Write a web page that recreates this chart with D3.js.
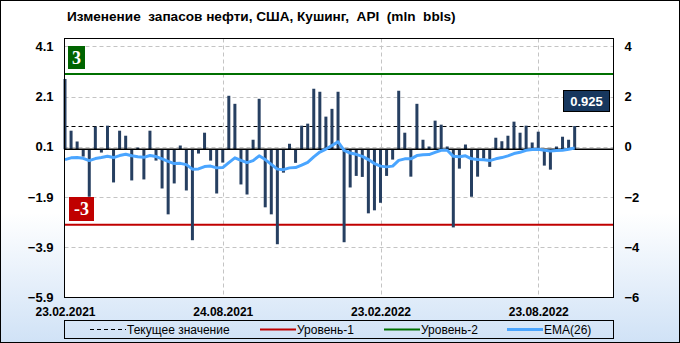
<!DOCTYPE html>
<html>
<head>
<meta charset="utf-8">
<script src="https://cdn.jsdelivr.net/npm/d3@7"></script>
<style>
  body { margin: 0; padding: 0; }
  svg { display: block; }
</style>
</head>
<body>
<script>
// data
const tickLabels = ["23.02.2021", "24.08.2021", "23.02.2022", "23.08.2022"];
const tickIndex = [0, 26, 52, 78];

const changes = [
  2.80, 0.74, 0.31, -0.29, -1.89, 0.90, -0.13, 0.94, -1.32, 0.74,
  0.54, -1.24, 0.07, -1.20, 0.74, -0.45, -1.56, -2.59, -1.36, 0.15,
  -1.64, -3.62, -0.17, 0.66, -0.45, -1.76, -0.53, 2.13, 1.81, -1.40,
  -1.80, 0.38, 2.01, -2.31, -2.59, -3.78, -0.93, 0.22, -0.54, 0.94,
  1.02, 2.41, 2.29, 1.30, 1.61, 2.29, -3.70, -1.52, -1.06, -1.10,
  -2.55, -2.43, -2.13, -1.06, -0.41, 2.33, 0.66, -1.09, 1.81, 0.38,
  0.11, 1.14, 0.98, 0.11, -3.11, -0.77, 0.19, -1.89, -1.09, -0.37,
  -0.70, 0.46, 0.32, 0.54, 1.10, 0.66, 0.94, 0.27, 0.70, -0.65,
  -0.81, 0.11, 0.50, 0.38, 0.925
];

const ema26 = [
  -0.41, -0.34, -0.33, -0.36, -0.45, -0.37, -0.33, -0.28, -0.33, -0.25,
  -0.20, -0.26, -0.30, -0.32, -0.25, -0.29, -0.38, -0.48, -0.57, -0.56,
  -0.61, -0.79, -0.78, -0.69, -0.67, -0.74, -0.73, -0.53, -0.34, -0.44,
  -0.53, -0.45, -0.26, -0.41, -0.60, -0.79, -0.81, -0.74, -0.73, -0.63,
  -0.52, -0.30, -0.11, 0.01, 0.15, 0.30, -0.04, -0.15, -0.20, -0.28,
  -0.41, -0.57, -0.67, -0.70, -0.67, -0.44, -0.38, -0.38, -0.25, -0.22,
  -0.21, -0.12, -0.04, -0.04, -0.28, -0.30, -0.26, -0.38, -0.41, -0.42,
  -0.45, -0.38, -0.33, -0.26, -0.17, -0.12, -0.04, -0.01, 0.00, -0.04,
  -0.07, -0.05, -0.04, 0.00, 0.05
];

const leftTicks = [4.1, 2.1, 0.1, -1.9, -3.9, -5.9];
const rightTicks = [4, 2, 0, -2, -4, -6];
const level1 = -3, level2 = 3;
const current = 0.925;

const W = 680, H = 343;
const plot = {left: 64.5, right: 613.5, top: 38.5, bottom: 297.5};
const boldFont = "'Liberation Sans', Arial, sans-serif";

const svg = d3.select("body").append("svg")
  .attr("width", W)
  .attr("height", H);

const defs = svg.append("defs");
const grad = defs.append("linearGradient")
  .attr("id", "bg")
  .attr("x1", 0).attr("y1", 0).attr("x2", 0).attr("y2", 1);
grad.append("stop").attr("offset", "0%").attr("stop-color", "#ffffff");
grad.append("stop").attr("offset", "62%").attr("stop-color", "#ffffff");
grad.append("stop").attr("offset", "100%").attr("stop-color", "#d0e2f6");

svg.append("rect")
  .attr("x", 0.5).attr("y", 0.5)
  .attr("width", W - 1).attr("height", H - 1)
  .attr("fill", "url(#bg)")
  .attr("stroke", "#000");

svg.append("rect")
  .attr("x", plot.left).attr("y", plot.top)
  .attr("width", plot.right - plot.left).attr("height", plot.bottom - plot.top)
  .attr("fill", "#fff");

// title
svg.append("text")
  .attr("x", 67)
  .attr("y", 21)
  .attr("font-family", boldFont)
  .attr("font-weight", "bold")
  .attr("font-size", 13.6)
  .style("white-space", "pre")
  .text("Изменение  запасов нефти, США, Кушинг,  API  (mln  bbls)");

// scales
const x = d3.scaleLinear()
  .domain([0, 90.4])
  .range([65, plot.right]);

const y = d3.scaleLinear()
  .domain([-5.9, 4.41])
  .range([plot.bottom, plot.top]);

const yR = d3.scaleLinear()
  .domain([-6, 4.31])
  .range([plot.bottom, plot.top]);

// gridlines
svg.append("g")
  .selectAll("line")
  .data(leftTicks.slice(0, 5))
  .join("line")
  .attr("x1", plot.left).attr("x2", plot.right)
  .attr("y1", d => Math.round(y(d)) + 0.5)
  .attr("y2", d => Math.round(y(d)) + 0.5)
  .attr("stroke", "#c4c4c4")
  .attr("stroke-dasharray", "4,3");

svg.append("g")
  .selectAll("line")
  .data(tickIndex.slice(1))
  .join("line")
  .attr("x1", d => Math.round(x(d)) + 0.5)
  .attr("x2", d => Math.round(x(d)) + 0.5)
  .attr("y1", plot.top).attr("y2", plot.bottom)
  .attr("stroke", "#c4c4c4")
  .attr("stroke-dasharray", "4,3");

// level lines
svg.append("line")
  .attr("x1", plot.left).attr("x2", plot.right)
  .attr("y1", y(level2)).attr("y2", y(level2))
  .attr("stroke", "#007000")
  .attr("stroke-width", 2);

svg.append("line")
  .attr("x1", plot.left).attr("x2", plot.right)
  .attr("y1", y(level1)).attr("y2", y(level1))
  .attr("stroke", "#c00000")
  .attr("stroke-width", 2);

// current value line
svg.append("line")
  .attr("x1", plot.left).attr("x2", plot.right)
  .attr("y1", Math.round(y(current)) + 0.5).attr("y2", Math.round(y(current)) + 0.5)
  .attr("stroke", "#000")
  .attr("stroke-dasharray", "4,3");

// bars
svg.append("g")
  .selectAll("line")
  .data(changes)
  .join("line")
  .attr("x1", (d, i) => x(i))
  .attr("x2", (d, i) => x(i))
  .attr("y1", y(0))
  .attr("y2", d => y(d))
  .attr("stroke", "#263f61")
  .attr("stroke-width", 3);

// zero line
svg.append("line")
  .attr("x1", plot.left).attr("x2", plot.right)
  .attr("y1", y(0)).attr("y2", y(0))
  .attr("stroke", "#000")
  .attr("stroke-width", 1.5);

// EMA
const line = d3.line()
  .x((d, i) => x(i))
  .y(d => y(d));

svg.append("path")
  .datum(ema26)
  .attr("fill", "none")
  .attr("stroke", "#4aa5ff")
  .attr("stroke-width", 3)
  .attr("stroke-linejoin", "round")
  .attr("d", line);

// plot frame
svg.append("rect")
  .attr("x", plot.left).attr("y", plot.top)
  .attr("width", plot.right - plot.left).attr("height", plot.bottom - plot.top)
  .attr("fill", "none")
  .attr("stroke", "#000");

// level labels
function levelBox(x0, y0, w, h, fill, txt) {
  svg.append("rect")
    .attr("x", x0).attr("y", y0)
    .attr("width", w).attr("height", h)
    .attr("fill", fill);
  svg.append("text")
    .attr("x", x0 + w / 2)
    .attr("y", y0 + h / 2)
    .attr("dy", "0.35em")
    .attr("text-anchor", "middle")
    .attr("font-family", "'Liberation Serif', 'Times New Roman', serif")
    .attr("font-weight", "bold")
    .attr("font-size", 18)
    .attr("fill", "#fff")
    .text(txt);
}
levelBox(68, 46, 17, 23, "#006400", String(level2));
levelBox(69, 197, 25, 24, "#c00000", String(level1));

// current value box
svg.append("rect")
  .attr("x", 563.5).attr("y", 90.5)
  .attr("width", 46).attr("height", 21)
  .attr("fill", "#17375e")
  .attr("stroke", "#000");
svg.append("text")
  .attr("x", 586.5)
  .attr("y", 101)
  .attr("dy", "0.35em")
  .attr("text-anchor", "middle")
  .attr("font-family", boldFont)
  .attr("font-weight", "bold")
  .attr("font-size", 13)
  .attr("fill", "#fff")
  .text(current.toFixed(3));

// axes
const axL = svg.append("g")
  .attr("transform", `translate(${plot.left},0)`)
  .call(d3.axisLeft(y).tickValues(leftTicks).tickSize(0).tickPadding(11).tickFormat(d3.format(".1f")));
axL.select(".domain").remove();
axL.selectAll("text")
  .attr("font-family", boldFont)
  .attr("font-weight", "bold")
  .attr("font-size", 13)
  .attr("fill", "#000");

const axR = svg.append("g")
  .attr("transform", `translate(${plot.right},0)`)
  .call(d3.axisRight(yR).tickValues(rightTicks).tickSize(0).tickPadding(11).tickFormat(d3.format("d")));
axR.select(".domain").remove();
axR.selectAll("text")
  .attr("font-family", boldFont)
  .attr("font-weight", "bold")
  .attr("font-size", 13)
  .attr("fill", "#000");

const axB = svg.append("g")
  .attr("transform", `translate(0,${plot.bottom})`)
  .call(d3.axisBottom(x).tickValues(tickIndex).tickSize(0).tickPadding(10)
    .tickFormat((d, i) => tickLabels[i]));
axB.select(".domain").remove();
axB.selectAll("text")
  .attr("font-family", boldFont)
  .attr("font-weight", "bold")
  .attr("font-size", 12)
  .attr("fill", "#000");

// legend
const legend = svg.append("g");
legend.append("rect")
  .attr("x", 64.5).attr("y", 320.5)
  .attr("width", 549).attr("height", 18)
  .attr("fill", "none")
  .attr("stroke", "#000");

const legendItems = [
  {label: "Текущее значение", color: "#000", width: 1, dash: "4,3", x: 90},
  {label: "Уровень-1", color: "#c00000", width: 2, dash: null, x: 260},
  {label: "Уровень-2", color: "#007000", width: 2, dash: null, x: 384},
  {label: "EMA(26)", color: "#4aa5ff", width: 3, dash: null, x: 507}
];
legendItems.forEach(d => {
  legend.append("line")
    .attr("x1", d.x).attr("x2", d.x + 36)
    .attr("y1", 329.5).attr("y2", 329.5)
    .attr("stroke", d.color)
    .attr("stroke-width", d.width)
    .attr("stroke-dasharray", d.dash);
  legend.append("text")
    .attr("x", d.x + 37)
    .attr("y", 329.5)
    .attr("dy", "0.35em")
    .attr("font-family", boldFont)
    .attr("font-size", 12)
    .text(d.label);
});
</script>
</body>
</html>
